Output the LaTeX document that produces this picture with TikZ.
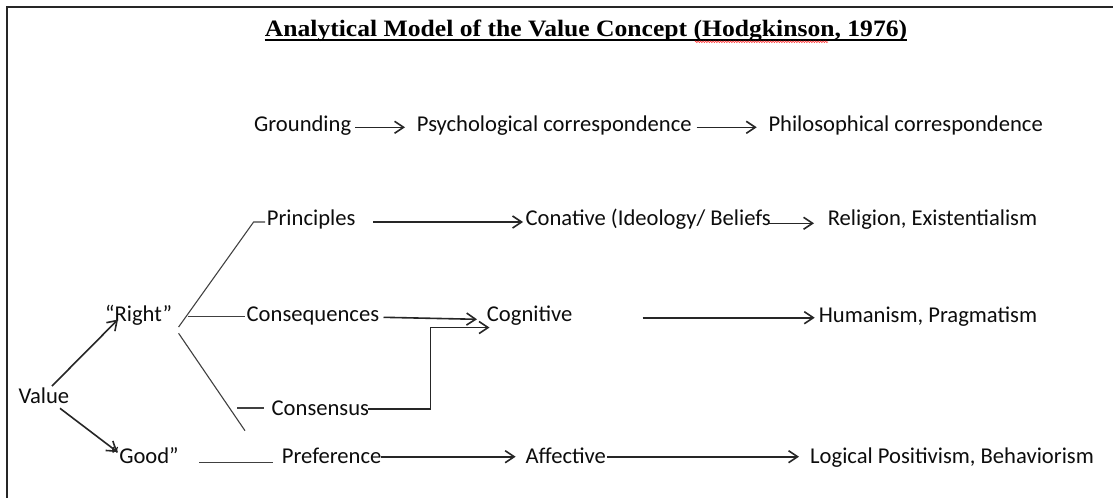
\documentclass[tikz,border=0pt]{standalone}
\usepackage{fontspec}
\setmainfont{Carlito}
\newfontfamily\titlefont[FakeStretch=1.09]{Liberation Serif}
\usetikzlibrary{arrows.meta,calc,decorations.pathmorphing}
\begin{document}
\begin{tikzpicture}[x=1pt,y=-1pt,
  txt/.style={anchor=base west,inner sep=0pt,font=\fontsize{22.6}{26}\selectfont,text=black!95},
  ln/.style={draw=black!85,line width=1.6pt},
  arr/.style={ln,-{Straight Barb[length=9pt,width=12pt]}},
  thin/.style={draw=black!75,line width=1.1pt}]
\useasboundingbox (0,0) rectangle (1113,498);
\fill[white] (0,0) rectangle (1113,498);
\draw[line width=2.4pt,black!85] (1113,7) -- (7,7) -- (7,498);
% title
\node[anchor=base,inner sep=0pt,font=\titlefont\bfseries\fontsize{23.5}{26}\selectfont] (title) at (586,36.7) {Analytical Model of the Value Concept (Hodgkinson, 1976)};
\draw[line width=1.5pt] ([yshift=-3.5]title.base west) -- ([yshift=-3.5]title.base east);
\coordinate (sq1) at (695,41.8);
\coordinate (sq2) at (828,41.8);
\draw[red!80,line width=0.6pt,decorate,decoration={zigzag,amplitude=0.8pt,segment length=2.5pt}] (sq1) -- (sq2);
% texts
\node[txt] (ground) at (254,131.7) {Grounding};
\node[txt] (psych) at (416.7,131.7) {Psychological correspondence};
\node[txt] (philo) at (768.3,131.7) {Philosophical correspondence};
\node[txt] (princ) at (266.7,225.7) {Principles};
\node[txt] (conat) at (525.4,225.7) {Conative (Ideology/ Beliefs};
\node[txt] (relig) at (827.6,225.7) {Religion, Existentialism};
\node[txt] (right) at (105,321.7) {“Right”};
\node[txt] (conseq) at (246.5,321.7) {Consequences};
\node[txt] (cogn) at (486.7,321.7) {Cognitive};
\node[txt] (human) at (818.6,322) {Humanism, Pragmatism};
\node[txt] (value) at (18.3,403.3) {Value};
\node[txt] (consens) at (271.5,415) {Consensus};
\node[txt] (good) at (110,463.3) {“Good”};
\node[txt] (pref) at (281.7,463.3) {Preference};
\node[txt] (affect) at (525.4,463.3) {Affective};
\node[txt] (logic) at (810,463.3) {Logical Positivism, Behaviorism};
% arrows, top row
\draw[arr] ($(ground.base west)+(101,-4.4)$) -- ($(psych.base west)+(-11.7,-4.4)$);
\draw[arr] ($(psych.base west)+(280,-4.4)$) -- ($(philo.base west)+(-11.6,-4.4)$);
% principles row
\draw[arr] ($(princ.base west)+(106.3,-3.7)$) -- ($(conat.base west)+(-2.4,-3.7)$);
\draw[arr] ($(conat.base west)+(244,-2.4)$) -- ($(relig.base west)+(-13.6,-2.4)$);
% consequences row
\draw[arr] ($(conseq.base west)+(137,-4.4)$) -- ($(cogn.base west)+(-9.7,-2.4)$);
\draw[arr] ($(consens.base west)+(96,-6)$) -| ($(cogn.base west)+(-56.2,5.8)$) -- ($(cogn.base west)+(2.8,5.8)$);
\draw[arr] ($(cogn.base west)+(156,-4)$) -- ($(human.base west)+(-3.9,-4.3)$);
% value branches
\draw[arr] ($(value.base west)+(33.7,-17.3)$) -- ($(right.base west)+(13,-2.2)$);
\draw[arr] ($(value.base west)+(41.7,5)$) -- ($(good.base west)+(7.5,-11.3)$);
% good row
\draw[arr] ($(pref.base west)+(99,-6.6)$) -- ($(affect.base west)+(-9.8,-6.6)$);
\draw[arr] ($(affect.base west)+(81.5,-6.6)$) -- ($(logic.base west)+(-11,-6.6)$);
% plain lines
\draw[thin] ($(right.base west)+(73.6,5.3)$) -- ($(princ.base west)+(-13.1,-3.7)$) -- ($(princ.base west)+(-1.7,-3.7)$);
\draw[thin] ($(right.base west)+(82.5,-5)$) -- ($(conseq.base west)+(-1.9,-5)$);
\draw[thin] ($(right.base west)+(73.6,11.6)$) -- ($(consens.base west)+(-26.5,15.7)$);
\draw[thin] ($(consens.base west)+(-34.5,-7)$) -- ($(consens.base west)+(-7.5,-7)$);
\draw[thin] ($(good.base west)+(89.3,-1)$) -- ($(pref.base west)+(-8.4,-1)$);
\end{tikzpicture}
\end{document}
